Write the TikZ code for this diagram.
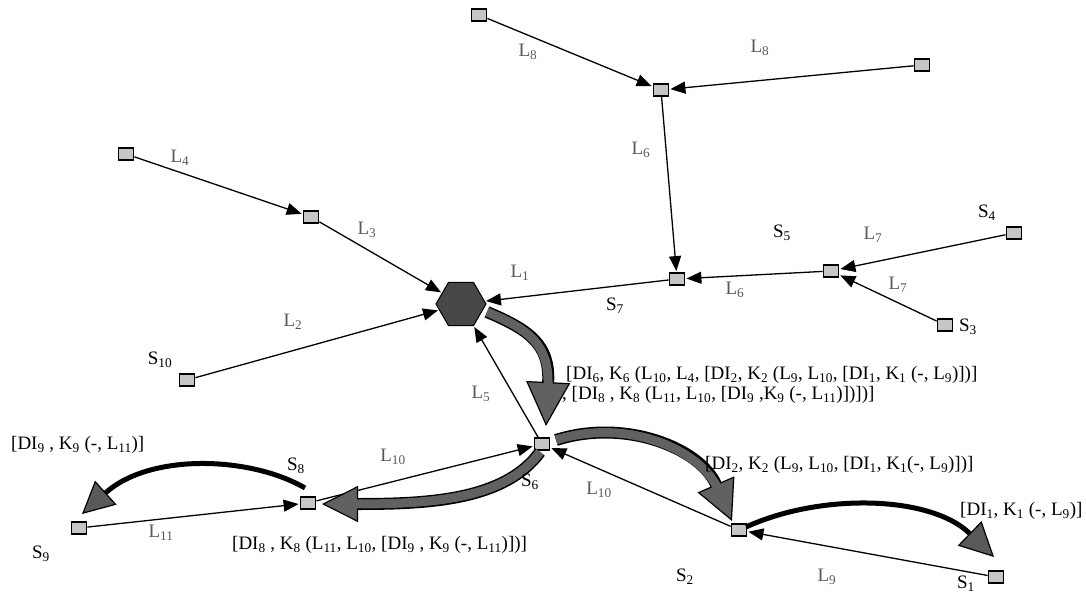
\documentclass[tikz,border=0pt]{standalone}
\usepackage{fontspec}
\setmainfont{Liberation Serif}
\usetikzlibrary{arrows.meta,shapes.geometric}
\newcommand{\sbs}[1]{\textsubscript{#1}}
\begin{document}
\begin{tikzpicture}[x=1pt,y=-1pt,
  font=\fontsize{19}{21}\selectfont,
  site/.style={draw=black, line width=1.8pt, fill=gray!45, minimum width=15pt, minimum height=12pt, inner sep=0pt},
  hub/.style={regular polygon, regular polygon sides=6, draw=black, line width=1pt, fill=black!72, minimum size=50pt, inner sep=0pt},
  link/.style={-{Triangle[length=15pt,width=12pt]}, line width=1.3pt, black, shorten >=1pt},
  lbl/.style={inner sep=0pt, text=black!65},
  slbl/.style={inner sep=0pt, text=black},
  fatarrow/.style={line width=12pt, black, -{Triangle[length=#1,width=#1,fill=black!62,line width=1.2pt]}},
  fatbody/.style={line width=9pt, black!62, shorten >=#1},
  darkarrow/.style={line width=5pt, black, -{Triangle[length=#1,width=#1,fill=black!65,line width=1.2pt]}}
]
\useasboundingbox (0,0) rectangle (1086,596);

% sites
\node[site] (A1) at (479,15) {};
\node[site] (A2) at (922,65) {};
\node[site] (B) at (661,90) {};
\node[site] (C) at (126,154) {};
\node[site] (D) at (311,217) {};
\node[hub] (H) at (461,304) {};
\node[site] (S7) at (677,279) {};
\node[site] (S5) at (831,271) {};
\node[site] (S4) at (1014,233) {};
\node[site] (S3) at (945,325) {};
\node[site] (S10) at (187,380) {};
\node[site] (S6) at (542,444) {};
\node[site] (S8) at (308,503) {};
\node[site] (S9) at (79,528) {};
\node[site] (S2) at (739,530) {};
\node[site] (S1) at (996,577) {};

% links
\draw[link] (A1) -- (B);
\draw[link] (A2) -- (B);
\draw[link] (B) -- (S7);
\draw[link] (C) -- (D);
\draw[link] (D) -- (H);
\draw[link] (S10) -- (H);
\draw[link] (S7) -- (H);
\draw[link] (S5) -- (S7);
\draw[link] (S4) -- (S5);
\draw[link] (S3) -- (S5);
\draw[link] (S6) -- (H);
\draw[link] (S2) -- (S6);
\draw[link] (S1) -- (S2);
\draw[link] (S8) -- (S6);
\draw[link] (S9) -- (S8);

% fat curved arrows
\coordinate (f1s) at (487,312);
\coordinate (f1e) at (546,426);
\draw[fatarrow=44pt] (f1s) .. controls (530,330) and (550,345) .. (f1e);
\draw[fatbody=38pt] (f1s) .. controls (530,330) and (550,345) .. (f1e);

\coordinate (f2s) at (556,440);
\coordinate (f2e) at (732,521);
\draw[fatarrow=40pt] (f2s) .. controls (625,418) and (700,448) .. (f2e);
\draw[fatbody=34pt] (f2s) .. controls (625,418) and (700,448) .. (f2e);

\coordinate (f4s) at (540,452);
\coordinate (f4e) at (322,504);
\draw[fatarrow=36pt] (f4s) .. controls (505,500) and (430,504) .. (f4e);
\draw[fatbody=30pt] (f4s) .. controls (505,500) and (430,504) .. (f4e);

\coordinate (f3s) at (746,527);
\coordinate (f3e) at (994,557);
\draw[darkarrow=34pt] (f3s) .. controls (820,493) and (930,495) .. (f3e);

\coordinate (f5s) at (305,488);
\coordinate (f5e) at (82,514);
\draw[darkarrow=32pt] (f5s) .. controls (250,456) and (150,453) .. (f5e);

% link labels
\node[lbl] (l8a) at (528,52) {L\sbs{8}};
\node[lbl] (l8b) at (760,48) {L\sbs{8}};
\node[lbl] (l6a) at (641,150) {L\sbs{6}};
\node[lbl] (l4) at (180,158) {L\sbs{4}};
\node[lbl] (l3) at (367,230) {L\sbs{3}};
\node[lbl] (l1) at (520,273) {L\sbs{1}};
\node[lbl] (l2) at (293,322) {L\sbs{2}};
\node[lbl] (l7a) at (873,235) {L\sbs{7}};
\node[lbl] (l7b) at (898,285) {L\sbs{7}};
\node[lbl] (l6b) at (735,290) {L\sbs{6}};
\node[lbl] (l5) at (481,394) {L\sbs{5}};
\node[lbl] (l10a) at (599,490) {L\sbs{10}};
\node[lbl] (l9) at (827,577) {L\sbs{9}};
\node[lbl] (l10b) at (393,457) {L\sbs{10}};
\node[lbl] (l11) at (161,533) {L\sbs{11}};

% site labels
\node[slbl] (s5l) at (782,233) {S\sbs{5}};
\node[slbl] (s4l) at (987,213) {S\sbs{4}};
\node[slbl] (s3l) at (968,327) {S\sbs{3}};
\node[slbl] (s7l) at (615,306) {S\sbs{7}};
\node[slbl] (s10l) at (160,360) {S\sbs{10}};
\node[slbl] (s6l) at (530,482) {S\sbs{6}};
\node[slbl] (s2l) at (685,577) {S\sbs{2}};
\node[slbl] (s1l) at (966,584) {S\sbs{1}};
\node[slbl] (s8l) at (296,466) {S\sbs{8}};
\node[slbl] (s9l) at (41,554) {S\sbs{9}};

% message labels
\node[slbl, anchor=west] (m1a) at (566,375) {[DI\sbs{6}, K\sbs{6} (L\sbs{10}, L\sbs{4}, [DI\sbs{2}, K\sbs{2} (L\sbs{9}, L\sbs{10}, [DI\sbs{1}, K\sbs{1} (-, L\sbs{9})])]};
\node[slbl, anchor=west] (m1b) at (562,395) {, [DI\sbs{8} , K\sbs{8} (L\sbs{11}, L\sbs{10}, [DI\sbs{9} ,K\sbs{9} (-, L\sbs{11})])])]};
\node[slbl, anchor=west] (m2) at (705,465) {[DI\sbs{2}, K\sbs{2} (L\sbs{9}, L\sbs{10}, [DI\sbs{1}, K\sbs{1}(-, L\sbs{9})])]};
\node[slbl, anchor=west] (m3) at (960,511) {[DI\sbs{1}, K\sbs{1} (-, L\sbs{9})]};
\node[slbl, anchor=west] (m4) at (232,545) {[DI\sbs{8} , K\sbs{8} (L\sbs{11}, L\sbs{10}, [DI\sbs{9} , K\sbs{9} (-, L\sbs{11})])]};
\node[slbl, anchor=west] (m5) at (11,445) {[DI\sbs{9} , K\sbs{9} (-, L\sbs{11})]};
\end{tikzpicture}
\end{document}
